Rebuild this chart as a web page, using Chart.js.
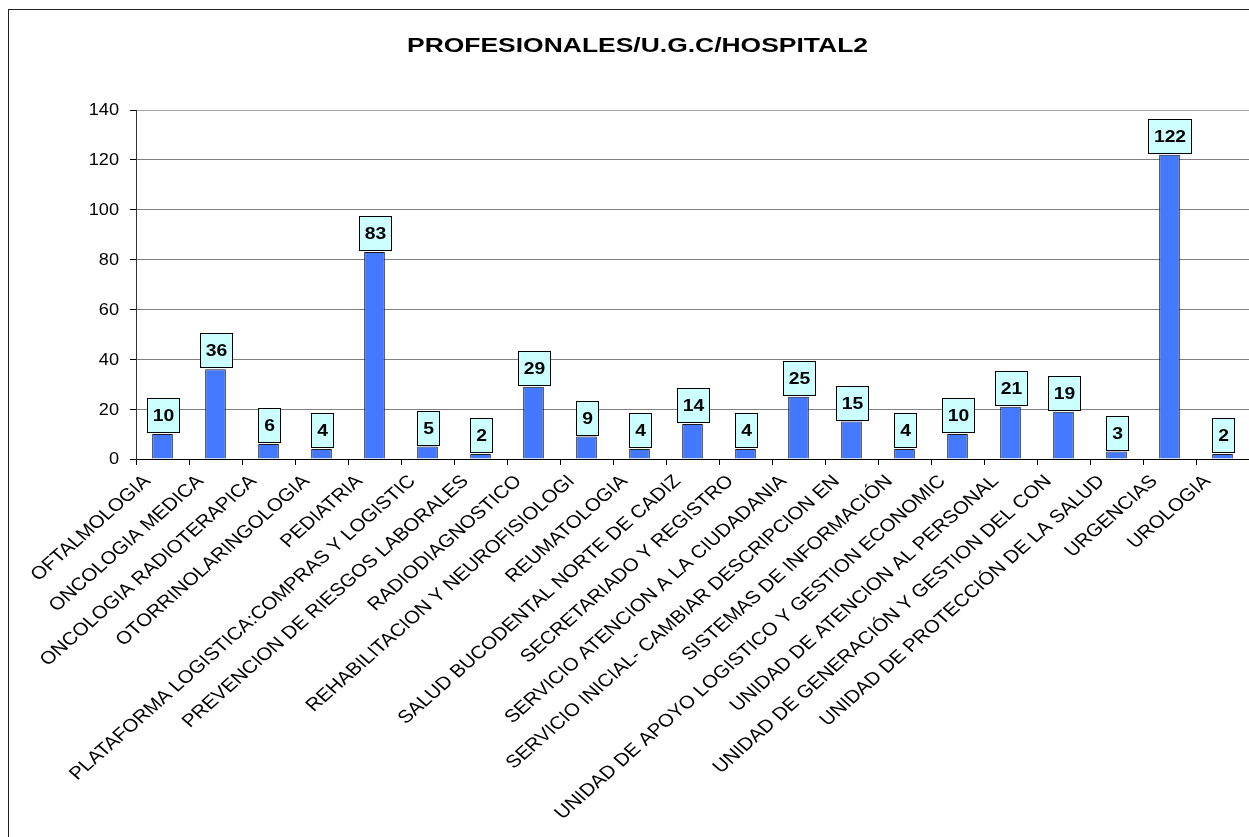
<!DOCTYPE html>
<html>
<head>
<meta charset="utf-8">
<script src="https://cdn.jsdelivr.net/npm/chart.js@4.4.1/dist/chart.umd.min.js"></script>
<style>
  html, body { margin: 0; padding: 0; background: #fff; overflow: hidden; width: 1249px; height: 837px; }
  #frame { position: absolute; left: 8px; top: 9px; width: 1300px; height: 900px; border: 1px solid #222; box-sizing: border-box; }
  #c { position: absolute; left: 0; top: 0; }
</style>
</head>
<body>
<div id="frame"></div>
<canvas id="c" width="1249" height="837"></canvas>
<script>
const chartTitle = "PROFESIONALES/U.G.C/HOSPITAL2";
const categories = [
  "OFTALMOLOGIA",
  "ONCOLOGIA MEDICA",
  "ONCOLOGIA RADIOTERAPICA",
  "OTORRINOLARINGOLOGIA",
  "PEDIATRIA",
  "PLATAFORMA LOGISTICA:COMPRAS Y LOGISTIC",
  "PREVENCION DE RIESGOS LABORALES",
  "RADIODIAGNOSTICO",
  "REHABILITACION Y NEUROFISIOLOGI",
  "REUMATOLOGIA",
  "SALUD BUCODENTAL NORTE DE CADIZ",
  "SECRETARIADO Y REGISTRO",
  "SERVICIO ATENCION A LA CIUDADANIA",
  "SERVICIO INICIAL- CAMBIAR DESCRIPCION EN",
  "SISTEMAS DE INFORMACIÓN",
  "UNIDAD DE APOYO LOGISTICO Y GESTION ECONOMIC",
  "UNIDAD DE ATENCION AL PERSONAL",
  "UNIDAD DE GENERACIÓN Y GESTION DEL CON",
  "UNIDAD DE PROTECCIÓN DE LA SALUD",
  "URGENCIAS",
  "UROLOGIA"
];
const profesionales = [10, 36, 6, 4, 83, 5, 2, 29, 9, 4, 14, 4, 25, 15, 4, 10, 21, 19, 3, 122, 2];
const yMin = 0;
const yMax = 140;
const yStep = 20;

const FONT = "'Liberation Sans', Arial, sans-serif";
const SX = 1.136; // horizontal stretch of the original picture's text

const textPlugin = {
  id: 'textPlugin',
  afterDraw(chart) {
    const ctx = chart.ctx;
    const xs = chart.scales.x, ys = chart.scales.y;
    const area = chart.chartArea;

    // title
    ctx.save();
    ctx.fillStyle = '#000';
    ctx.font = 'bold 19.5px ' + FONT;
    const tW = ctx.measureText(chartTitle).width;
    ctx.textAlign = 'center';
    ctx.textBaseline = 'middle';
    ctx.translate(637.5, 46.5);
    ctx.scale(461 / tW, 1);
    ctx.fillText(chartTitle, 0, 0);
    ctx.restore();

    // y tick labels
    ys.ticks.forEach(t => {
      const y = ys.getPixelForValue(t.value);
      ctx.save();
      ctx.fillStyle = '#000';
      ctx.font = '16px ' + FONT;
      ctx.textAlign = 'right';
      ctx.textBaseline = 'middle';
      ctx.translate(area.left - 17, y + 1);
      ctx.scale(SX, 1);
      ctx.fillText(String(t.value), 0, 0);
      ctx.restore();
    });

    // x category labels: 45deg text, then stretched horizontally
    categories.forEach((lab, i) => {
      const x = xs.getPixelForValue(i);
      ctx.save();
      ctx.fillStyle = '#000';
      ctx.font = '18px ' + FONT;
      ctx.textAlign = 'right';
      ctx.textBaseline = 'alphabetic';
      ctx.translate(x - 11, area.bottom + 23);
      ctx.scale(SX, 1);
      ctx.rotate(-Math.PI / 4);
      ctx.fillText(lab, 0, 0);
      ctx.restore();
    });

    // data labels in boxes
    const meta = chart.getDatasetMeta(0);
    meta.data.forEach((bar, i) => {
      const txt = String(profesionales[i]);
      ctx.save();
      ctx.font = 'bold 17px ' + FONT;
      const tw = ctx.measureText(txt).width * SX;
      const w = Math.round(tw + 11);
      const h = 34;
      const bx = Math.round(bar.x - w / 2) + 0.5;
      const by = Math.round(bar.y - 2 - h) + 0.5;
      ctx.fillStyle = '#CCFFFF';
      ctx.fillRect(bx, by, w, h);
      ctx.strokeStyle = '#000';
      ctx.lineWidth = 1;
      ctx.strokeRect(bx, by, w, h);
      ctx.fillStyle = '#000';
      ctx.textAlign = 'center';
      ctx.textBaseline = 'middle';
      ctx.translate(bx + w / 2, by + h / 2 + 1);
      ctx.scale(SX, 1);
      ctx.fillText(txt, 0, 0);
      ctx.restore();
    });
  }
};

new Chart(document.getElementById('c'), {
  type: 'bar',
  data: {
    labels: categories,
    datasets: [{
      data: profesionales,
      backgroundColor: '#4479FF',
      borderColor: '#1a1a1a',
      borderWidth: 1,
      barPercentage: 0.39,
      categoryPercentage: 1.0
    }]
  },
  options: {
    responsive: false,
    animation: false,
    devicePixelRatio: 1,
    layout: { padding: { left: 0, top: 110, right: 0, bottom: 0 } },
    plugins: {
      legend: { display: false },
      title: { display: false },
      tooltip: { enabled: false }
    },
    scales: {
      x: {
        grid: { display: true, drawOnChartArea: false, drawTicks: true, tickLength: 6, tickColor: '#000', color: '#000', offset: true },
        border: { display: true, color: '#000', width: 1 },
        ticks: { display: false },
        afterFit(s) { s.height = 378; }
      },
      y: {
        min: yMin,
        max: yMax,
        ticks: { display: false, stepSize: yStep },
        grid: {
          color: c => (c.tick && c.tick.value === yMax) ? '#a8a8a8' : '#808080',
          lineWidth: 1,
          drawTicks: true,
          tickLength: 6,
          tickColor: '#000'
        },
        border: { display: true, color: '#333', width: 1 },
        afterFit(s) { s.width = 136; }
      }
    }
  },
  plugins: [textPlugin]
});
</script>
</body>
</html>
